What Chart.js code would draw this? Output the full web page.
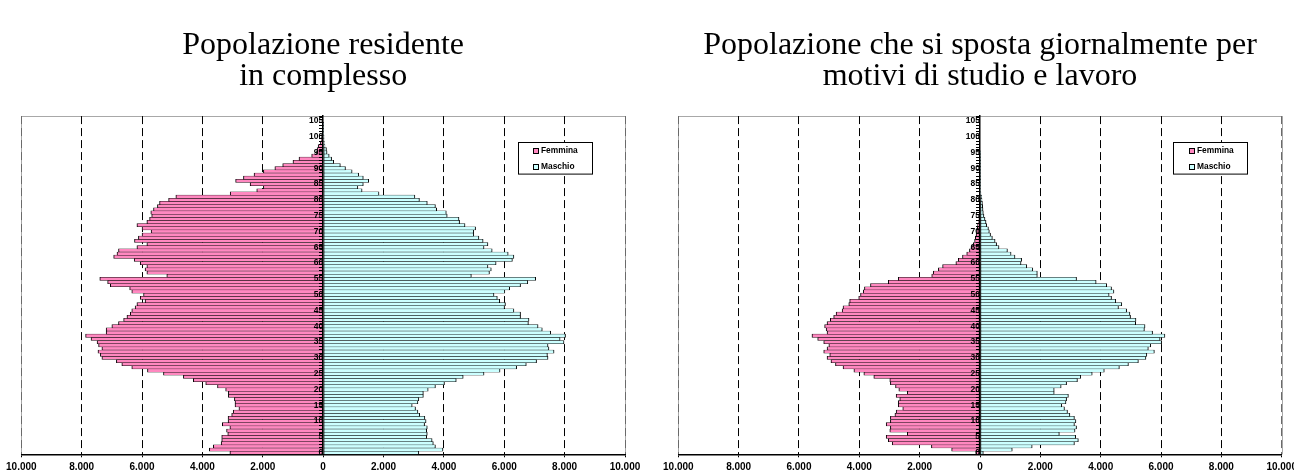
<!DOCTYPE html>
<html><head><meta charset="utf-8">
<script src="https://cdn.jsdelivr.net/npm/chart.js@4.4.1/dist/chart.umd.min.js"></script>
<style>
html,body{margin:0;padding:0;background:#fff;overflow:hidden;width:1294px;height:470px;}
.box{position:absolute;top:0;height:480px;}
</style></head><body>
<div class="box" style="left:0;width:647px"><canvas id="c1" width="647" height="480"></canvas></div>
<div class="box" style="left:647px;width:660px"><canvas id="c2" width="660" height="480"></canvas></div>
<script>
// ---- categories (age classes) ----
const AGES = ['0','1','2','3','4','5','6','7','8','9','10','11','12','13','14','15','16','17','18','19',
 '20','21','22','23','24','25','26','27','28','29','30','31','32','33','34','35','36','37','38','39',
 '40','41','42','43','44','45','46','47','48','49','50','51','52','53','54','55','56','57','58','59',
 '60','61','62','63','64','65','66','67','68','69','70','71','72','73','74','75','76','77','78','79',
 '80','81','82','83','84','85','86','87','88','89','90','91','92','93','94','95','96','97','98','99',
 '100','101','102','103','104','105','106'];
const X_TICKS = [-10000,-8000,-6000,-4000,-2000,0,2000,4000,6000,8000,10000];
const SERIES_NAMES = ['Femmina','Maschio'];
const TITLE_LEFT = ['Popolazione residente','in complesso'];
const TITLE_RIGHT = ['Popolazione che si sposta giornalmente per','motivi di studio e lavoro'];

// ---- Popolazione residente in complesso ----
const FEMALE_RESIDENT = [3090,3770,3640,3380,3360,3360,3160,3200,3090,3340,
 3150,3150,3030,2980,2790,2920,2920,2940,3140,3140,
 3230,3500,3890,4300,4630,5290,5820,6340,6670,6850,
 7330,7380,7460,7330,7440,7490,7690,7870,7190,7190,
 7000,6780,6610,6500,6390,6340,6230,6170,5900,6060,
 5950,6340,6410,7050,7140,7400,5180,5840,5900,5840,
 6060,6260,6940,6830,6780,6170,5840,6250,6120,6000,
 5700,6000,6170,5840,5750,5680,5710,5620,5490,5420,
 5120,4880,3080,2200,1980,2420,2900,2640,2290,1980,
 1600,1340,1000,800,380,220,200,165,90,60,
 50,30,20,10,5,5,0];
const MALE_RESIDENT = [3170,3970,3720,3650,3610,3430,3450,3430,3450,3360,
 3410,3370,3200,3140,3060,2950,3140,3170,3320,3320,
 3480,3720,4020,4410,4640,5330,5860,6410,6730,7070,
 7450,7430,7650,7480,7450,7980,7850,8030,7540,7260,
 7120,6800,6820,6540,6540,6320,6010,6040,5850,5770,
 5660,6020,6180,6540,6780,7040,4910,5510,5570,5460,
 5730,6270,6320,6130,5600,5330,5460,5300,5160,4990,
 4990,5050,4700,4520,4500,4110,4080,3760,3720,3450,
 3190,3040,1850,1290,1150,1330,1510,1330,1180,960,
 740,570,350,280,200,130,110,60,40,30,
 30,15,10,5,5,0,0];

// ---- Popolazione che si sposta giornalmente per studio e lavoro ----
const FEMALE_COMMUTING = [140,940,1610,2910,3040,3110,2410,2990,2970,3110,
 2970,2970,2820,2780,2560,2710,2710,2660,2780,2410,
 2690,2800,2970,2990,3520,3850,4180,4540,4790,4940,
 5070,4980,5180,5070,5010,5180,5380,5570,5070,5100,
 5150,5070,4960,4850,4770,4570,4540,4350,4320,4020,
 3960,3870,3830,3630,3040,2710,1600,1550,1380,1240,
 800,720,580,440,350,280,220,180,155,130,
 110,90,80,50,40,30,25,20,15,12,
 10,8,5,4,3,3,2,2,1,1,
 1,1,0,0,0,0,0,0,0,0,
 0,0,0,0,0,0,0];
const MALE_COMMUTING = [110,1070,1730,3130,3260,3170,2630,3150,3200,3130,
 3180,3130,2980,2900,2800,2710,2850,2870,2930,2460,
 2460,2690,2870,3230,3340,3720,4120,4620,4920,5250,
 5500,5530,5780,5580,5660,6020,5970,6130,5720,5450,
 5470,5160,5170,4990,4970,4860,4590,4700,4500,4360,
 4280,4440,4360,4200,3850,3200,1900,1900,1750,1550,
 1360,1380,1160,1030,910,630,550,500,410,350,
 310,280,220,200,165,130,110,100,90,80,
 65,55,30,20,15,10,8,6,5,4,
 3,2,2,1,1,1,0,0,0,0,
 0,0,0,0,0,0,0];

// ---- styles ----
const PINK = '#FF88C0';
const CYAN = '#CCFFFF';
const LABEL_FONT = '"Liberation Sans", Arial, sans-serif';

function fmt(v){
  return String(Math.abs(v)).replace(/\B(?=(\d{3})+(?!\d))/g, '.');
}

const framePlugin = {
  id: 'frame',
  beforeDraw(chart){
    const {ctx, chartArea:a} = chart;
    ctx.save();
    ctx.strokeStyle = '#a8a8a8';
    ctx.lineWidth = 1;
    ctx.beginPath();
    const t = Math.round(a.top) + 0.5;
    ctx.moveTo(a.left, t); ctx.lineTo(a.right, t);
    ctx.moveTo(Math.round(a.left) + 0.5, a.top); ctx.lineTo(Math.round(a.left) + 0.5, a.bottom);
    ctx.moveTo(Math.round(a.right) + 0.5, a.top); ctx.lineTo(Math.round(a.right) + 0.5, a.bottom);
    ctx.stroke();
    ctx.restore();
  }
};

const boxLegend = {
  id: 'boxLegend',
  afterDraw(chart, args, o){
    const {ctx, chartArea:a} = chart;
    const x = Math.round(a.right - o.right - o.width) + 0.5;
    const y = Math.round(a.top + o.top) + 0.5;
    ctx.save();
    ctx.fillStyle = '#fff';
    ctx.fillRect(x, y, o.width, o.height);
    ctx.strokeStyle = '#000';
    ctx.lineWidth = 1;
    ctx.strokeRect(x, y, o.width, o.height);
    ctx.font = 'bold 8.4px ' + LABEL_FONT;
    ctx.textBaseline = 'middle';
    ctx.textAlign = 'left';
    chart.data.datasets.forEach((ds, i) => {
      const cy = y + o.rows[i];
      const sx = Math.round(x + o.sqX) + 0.5;
      const sy = Math.round(cy - 3) + 0.5;
      ctx.fillStyle = ds.backgroundColor;
      ctx.fillRect(sx, sy, 5, 5);
      ctx.strokeStyle = '#000';
      ctx.strokeRect(sx, sy, 5, 5);
      ctx.fillStyle = '#000';
      ctx.fillText(ds.label, sx + 7.5, cy);
    });
    ctx.restore();
  }
};

function makeChart(id, title, female, male, padL, padR, legendOpt){
  const bw = {top: 0.5, bottom: 0.5, left: 1, right: 1};
  return new Chart(document.getElementById(id), {
    type: 'bar',
    data: {
      labels: AGES,
      datasets: [
        {label: SERIES_NAMES[0], data: female.map(v => -v), backgroundColor: PINK,
         borderColor: '#000', borderWidth: bw, borderSkipped: false},
        {label: SERIES_NAMES[1], data: male, backgroundColor: CYAN,
         borderColor: '#000', borderWidth: bw, borderSkipped: false}
      ]
    },
    plugins: [framePlugin, boxLegend],
    options: {
      indexAxis: 'y',
      responsive: false,
      animation: false,
      devicePixelRatio: 1,
      layout: {padding: {left: padL, right: padR, top: 0, bottom: 3.7}},
      datasets: {bar: {barPercentage: 1, categoryPercentage: 1}},
      plugins: {
        legend: {display: false},
        tooltip: {enabled: false},
        title: {
          display: true, text: title, color: '#000',
          font: {family: '"Liberation Serif", "Times New Roman", serif', size: 32, weight: 'normal', lineHeight: 0.97},
          padding: {top: 30.5, bottom: 23.5}
        },
        boxLegend: legendOpt
      },
      scales: {
        x: {
          type: 'linear', stacked: true, min: -10000, max: 10000,
          afterBuildTicks: (s) => { s.ticks = X_TICKS.map(v => ({value: v})); },
          ticks: {
            callback: (v) => fmt(v), color: '#000', maxRotation: 0, autoSkip: false,
            padding: 4.5, font: {family: LABEL_FONT, size: 10, weight: 'bold', lineHeight: 1}
          },
          grid: {
            color: (c) => {
              const v = c.tick ? c.tick.value : null;
              if (v === 0) return 'rgba(0,0,0,0)';
              if (v === 10000 || v === -10000) return '#6a6a6a';
              return '#000';
            },
            lineWidth: 1, tickLength: 3, tickColor: '#000', tickWidth: 1, tickBorderDash: []
          },
          border: {display: true, color: '#000', width: 1.5, dash: [8, 4]}
        },
        y: {
          type: 'category', stacked: true, reverse: true, position: {x: 0},
          ticks: {
            autoSkip: false, color: '#000', padding: 3, z: 2,
            font: {family: LABEL_FONT, size: 8.5, weight: 'bold'},
            callback: function(val, idx){ const a = Number(AGES[idx]); return (a % 5 === 0 && a <= 105) ? AGES[idx] : ''; }
          },
          grid: {drawOnChartArea: false, drawTicks: true, tickLength: 3, color: '#000', lineWidth: 1, z: 2},
          border: {display: true, color: '#000', width: 1.5, z: 2}
        }
      }
    }
  });
}

makeChart('c1', TITLE_LEFT, FEMALE_RESIDENT, MALE_RESIDENT, 21.3, 22,
  {right: 33.3, top: 25.7, width: 74, height: 31.6, sqX: 14.6, rows: [8.3, 24]});
makeChart('c2', TITLE_RIGHT, FEMALE_COMMUTING, MALE_COMMUTING, 31.3, 25.3,
  {right: 34.4, top: 25.7, width: 74, height: 31.6, sqX: 15.7, rows: [8.3, 24]});
</script>
</body></html>
